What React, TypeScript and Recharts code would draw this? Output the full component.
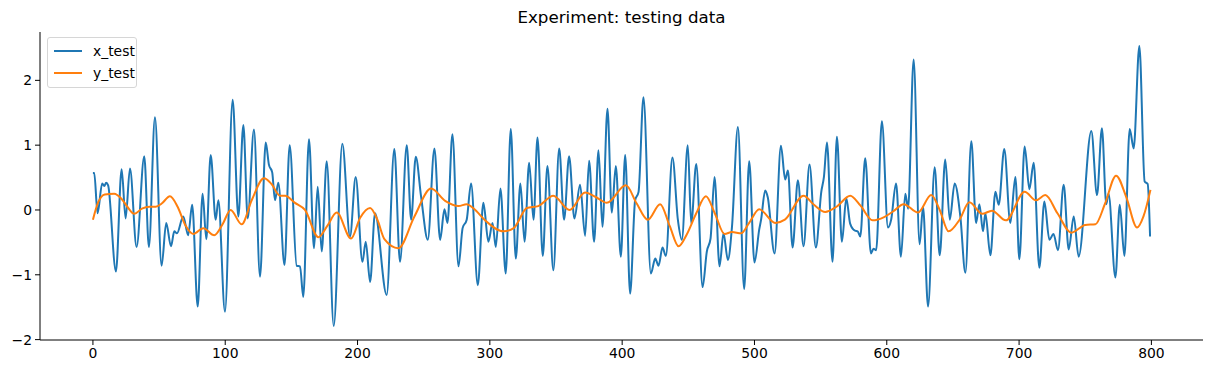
import { CartesianGrid, Line, LineChart, XAxis, YAxis } from 'recharts';

// x_test: turning points, [step, value]
const xTest: [number, number][] = [
  [0, 0.57], [1, 0.57], [3.5, -0.05], [7, 0.41], [8.6, 0.37], [10, 0.42], [11.5, 0.38],
  [17.4, -0.95], [21.7, 0.63], [24.7, -0.13], [28, 0.64], [33, -0.57], [38.8, 0.83],
  [42.3, -0.57], [46.9, 1.43], [51.9, -0.86], [55.4, -0.2], [59, -0.56], [61.5, -0.33],
  [63.5, -0.36], [68.3, -0.1], [72, -0.39], [75, 0.08], [79.2, -1.49], [82.9, 0.25],
  [85.7, -0.45], [89, 0.85], [92.8, -0.15], [94.8, 0.15], [99.8, -1.57], [105.6, 1.7],
  [109.9, -0.1], [113.7, 1.31], [117, -0.13], [121.7, 1.24], [126.3, -1.03], [130.6, 1.04],
  [133, 0.7], [135.5, 0.58], [137.6, 0.15], [140.1, 0.42], [144.8, -0.85], [148.7, 1.0],
  [154, -0.86], [156.5, -0.87], [159, -1.34], [163.3, 1.09], [167.1, -0.59], [169.9, 0.36],
  [172.9, -0.64], [176.7, 0.75], [182, -1.79], [188.5, 1.02], [194.3, -0.41], [198.6, 0.51],
  [203.7, -0.8], [206.2, -0.49], [209.5, -1.11], [213.2, -0.05], [222, -1.31], [227.8, 0.94],
  [232.1, -0.8], [237.2, 1.0], [240.5, -0.15], [244, 0.82], [248, 0.21], [253.1, -0.46],
  [258.1, 0.95], [262.4, -0.46], [265.7, 0.01], [268, -0.2], [271.7, 1.17], [276.3, -0.87],
  [279.4, -0.28], [282.5, -0.15], [285.8, 0.41], [290.9, -1.16], [295.1, 0.11], [298.9, -0.49],
  [302, -0.2], [304.5, -0.57], [308, 0.33], [312, -0.98], [315.8, 1.25], [319.6, -0.75],
  [323.1, 0.41], [326.2, -0.49], [329.7, 0.73], [333, -0.15], [336, 1.12], [340, -0.71],
  [343.5, 0.68], [348, -0.93], [352.4, 0.95], [356.1, -0.15], [359.9, 0.83], [363.9, -0.13],
  [368.2, 0.39], [372, -0.4], [375, 0.76], [378.8, -0.49], [382.1, 0.92], [385.1, -0.26],
  [388.9, 1.56], [392.2, -0.04], [395.2, 0.68], [399, -0.72], [402.3, 0.85], [406, -1.29],
  [409.8, 0.15], [412.4, 0.28], [416.1, 1.74], [421.7, -0.98], [425, -0.75], [427.5, -0.86],
  [430.5, -0.58], [433, -0.71], [438, 0.81], [442.1, -0.15], [445.1, -0.46], [449.6, 1.0],
  [452.2, -0.21], [456, 0.71], [460.8, -1.19], [464, -0.64], [466.8, -0.44], [469.8, 0.51],
  [473.6, -0.87], [476.6, -0.36], [479.9, -0.77], [483, -0.26], [487.5, 1.28], [492.2, -1.22],
  [496, 0.75], [500, -0.81], [503.6, -0.3], [505, -0.15], [508.1, 0.3], [510, 0.2],
  [515.2, -0.67], [520, 0.99], [523.2, 0.47], [525.3, 0.61], [528.8, -0.58], [532.8, 0.46],
  [537.1, -0.56], [541.6, 0.7], [546.4, -0.58], [550.5, 0.28], [552.5, 0.51], [554.8, 1.04],
  [559, -0.8], [562.3, 1.13], [566.1, -0.49], [569.4, 0.18], [572.3, -0.21], [576, -0.32],
  [578, -0.33], [580, -0.41], [583.7, 0.8], [588, -0.67], [590, -0.6], [592, -0.62],
  [596.3, 1.37], [600.9, -0.27], [603.3, -0.15], [607, 0.41], [610.7, -0.72], [614, 0.25],
  [616.1, 0.02], [620.3, 2.32], [624.8, -0.53], [627.4, 0.05], [631.2, -1.49], [636.2, 0.66],
  [640, -0.7], [644.2, 0.78], [647.6, -0.15], [651.3, 0.41], [655.6, -0.1], [659.4, -0.97],
  [663.9, 1.06], [667.5, -0.2], [670, 0.09], [672.7, -0.33], [674.5, -0.05], [678.3, -0.7],
  [682.1, 0.28], [684.6, 0.08], [688.8, 0.94], [693.4, -0.2], [697.2, 0.51], [700.2, -0.76],
  [704.2, 0.98], [707.8, 0.32], [711, 0.73], [715.3, -0.89], [719.1, 0.13], [722.9, -0.46],
  [726, -0.37], [729.4, -0.62], [733.7, 0.39], [737.5, -0.61], [741.3, -0.1], [745, -0.72],
  [754.6, 1.22], [758.9, 0.23], [762.6, 1.26], [765.9, 0.09], [767.6, 0.25], [772.8, -1.04],
  [776.1, 0.08], [779.6, -0.71], [783.6, 1.25], [786.6, 0.95], [790.9, 2.53], [794.9, 0.44],
  [797.2, 0.4], [799, -0.41],
];

// y_test: the smooth target signal
const yTest: [number, number][] = [
  [0, -0.15], [4, 0.12], [9, 0.24], [16, 0.25], [21.7, 0.17], [26, 0.05], [31.3, -0.06],
  [37, 0.02], [42.8, 0.05], [47.5, 0.05], [52, 0.1], [58.2, 0.21], [64, 0.05], [70, -0.24],
  [75.9, -0.37], [83.4, -0.28], [91.7, -0.39], [98, -0.22], [104.1, 0.0], [112.4, -0.22],
  [120, 0.15], [129.3, 0.49], [135, 0.4], [141.4, 0.22], [145.2, 0.22], [152.7, 0.11],
  [160.3, 0.0], [170.4, -0.42], [177, -0.25], [184.3, -0.04], [195.1, -0.44], [202, -0.12],
  [209.5, 0.03], [215, -0.15], [220.3, -0.45], [230.9, -0.59], [243, -0.1], [255.6, 0.33],
  [266.2, 0.14], [276.3, 0.06], [282.5, 0.09], [288, 0.02], [296, -0.15], [310.3, -0.33],
  [318, -0.28], [328, 0.03], [336.6, 0.06], [348, 0.22], [360.2, 0.0], [372, 0.27],
  [380, 0.2], [388.4, 0.11], [402.8, 0.38], [411, 0.1], [419.4, -0.15], [428.7, 0.09],
  [436, -0.25], [442.6, -0.56], [449, -0.37], [456, -0.05], [463.3, 0.21], [470, -0.05],
  [477.4, -0.37], [483, -0.34], [490, -0.36], [496, -0.2], [503.6, 0.01], [515.7, -0.2],
  [523, -0.15], [537.1, 0.22], [545, 0.08], [553.5, -0.03], [562, 0.05], [572.4, 0.22],
  [580, 0.07], [589.3, -0.16], [598, -0.11], [605, -0.02], [612.7, 0.09], [623.6, -0.04],
  [633.6, 0.23], [640, 0.0], [646.7, -0.33], [655, -0.15], [662.4, 0.12], [672.2, -0.06],
  [679.5, -0.01], [690, -0.16], [704.2, 0.28], [712.8, 0.15], [719.8, 0.23], [729, -0.05],
  [739.5, -0.35], [750, -0.23], [757.7, -0.22], [765, 0.1], [773.3, 0.53], [781, 0.2],
  [789.2, -0.27], [794, -0.1], [799.3, 0.31],
];

const xTicks = [0, 100, 200, 300, 400, 500, 600, 700, 800];
const yTicks = [-2, -1, 0, 1, 2];

const BLUE = '#1f77b4';
const ORANGE = '#ff7f0e';
const FONT = '"DejaVu Sans", sans-serif';

const toRows = (pts: [number, number][]) => pts.map(([x, v]) => ({ x, v }));

const minus = (v: number) => String(v).replace('-', '\u2212');

export default function App() {
  const tick = { fill: '#000', fontSize: 13.9, fontFamily: FONT };
  return (
    <div
      style={{
        position: 'absolute',
        left: 0,
        top: 0,
        width: 1212,
        height: 374,
        background: '#fff',
        fontFamily: FONT,
      }}
    >
      <div
        style={{
          position: 'absolute',
          left: 40,
          width: 1163,
          top: 7,
          textAlign: 'center',
          fontSize: 16.7,
          color: '#000',
        }}
      >
        Experiment: testing data
      </div>
      <LineChart
        width={1212}
        height={374}
        margin={{ top: 32, right: 9, bottom: 0, left: 0 }}
      >
        <CartesianGrid stroke="none" />
        <XAxis
          type="number"
          dataKey="x"
          domain={[-40, 839]}
          ticks={xTicks}
          allowDataOverflow
          height={34}
          tickSize={5}
          tickMargin={3}
          stroke="#000"
          tick={tick}
        />
        <YAxis
          type="number"
          domain={[-2.006, 2.746]}
          ticks={yTicks}
          allowDataOverflow
          width={40}
          tickSize={5}
          tickMargin={3}
          stroke="#000"
          tick={tick}
          tickFormatter={minus}
        />
        <Line
          data={toRows(xTest)}
          dataKey="v"
          name="x_test"
          type="monotone"
          stroke={BLUE}
          strokeWidth={2}
          dot={false}
          isAnimationActive={false}
        />
        <Line
          data={toRows(yTest)}
          dataKey="v"
          name="y_test"
          type="monotone"
          stroke={ORANGE}
          strokeWidth={2}
          dot={false}
          isAnimationActive={false}
        />
      </LineChart>
      <div
        style={{
          position: 'absolute',
          left: 47,
          top: 37,
          width: 88,
          height: 49,
          border: '1px solid #d6d6d6',
          borderRadius: 3,
          background: 'rgba(255,255,255,0.8)',
          fontSize: 13.9,
          color: '#000',
        }}
      >
        {[
          { label: 'x_test', color: BLUE },
          { label: 'y_test', color: ORANGE },
        ].map((item, i) => (
          <div
            key={item.label}
            style={{
              position: 'absolute',
              left: 6,
              top: 4 + i * 22,
              height: 18,
              display: 'flex',
              alignItems: 'center',
            }}
          >
            <span
              style={{
                display: 'inline-block',
                width: 28,
                height: 2,
                background: item.color,
                marginRight: 11,
              }}
            />
            <span>{item.label}</span>
          </div>
        ))}
      </div>
    </div>
  );
}
